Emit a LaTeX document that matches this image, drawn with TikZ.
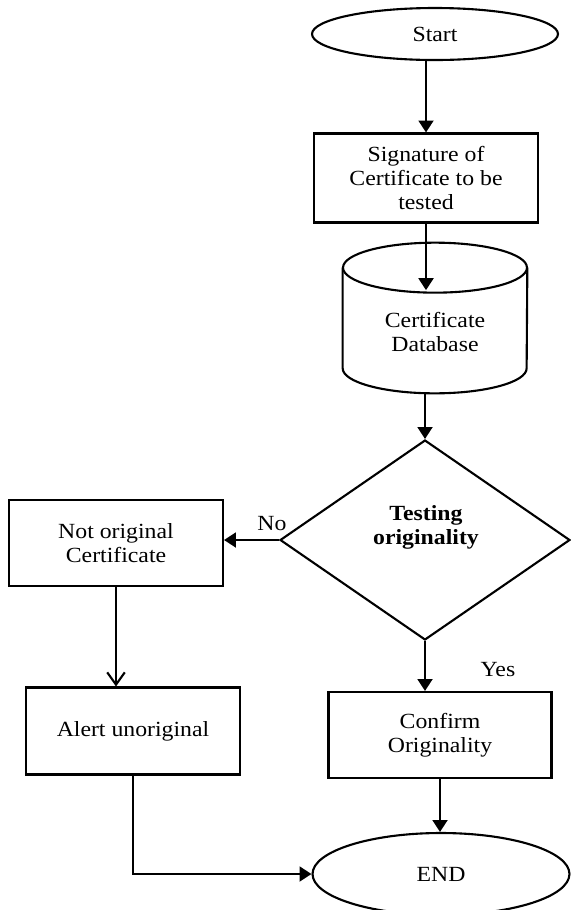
\documentclass[tikz,border=0pt]{standalone}
\usepackage{fontspec}
\setmainfont{Liberation Serif}[FakeStretch=1.1]
\usetikzlibrary{shapes.geometric,arrows.meta}

\newcommand{\flowfont}{\fontsize{12.3}{13.7}\selectfont}

\tikzset{
  box/.style={draw, line width=1.2pt, rectangle, align=center, inner sep=2pt},
  term/.style={draw, line width=1.2pt, ellipse, inner sep=0pt},
  store/.style={line width=1.2pt},
  decision/.style={draw, line width=1.2pt, diamond, inner sep=0pt},
  arrow/.style={line width=1.2pt, -{Triangle[length=6.8pt,width=8.5pt]}},
  openarrow/.style={line width=1.2pt, -{Straight Barb[length=7pt,width=10pt]}},
}

\begin{document}
\begin{tikzpicture}[x=0.02cm, y=-0.02cm, font=\flowfont]
  \useasboundingbox (0,0) rectangle (571,910);
  % shapes of the flow
  \node[term, minimum width=4.92cm, minimum height=1.04cm] (start) at (435,34) {Start};
  \node[box, minimum width=4.48cm, minimum height=1.78cm] (sig) at (426,178) {Signature of\\Certificate to be\\tested};
  \node[minimum width=3.68cm, minimum height=3cm, inner sep=0pt] (db) at (435,318) {};
  \node[align=center] (dbtext) at (435,332) {Certificate\\Database};
  \node[decision, minimum width=5.8cm, minimum height=4cm] (test) at (425,540) {};
  \node[align=center, font=\flowfont\bfseries] (testtext) at (426,527) {Testing\\originality};
  \node[box, minimum width=4.28cm, minimum height=1.72cm] (notorig) at (116,543) {Not original\\Certificate};
  \node[box, minimum width=4.28cm, minimum height=1.74cm] (alert) at (133,731) {Alert unoriginal};
  \node[box, minimum width=4.46cm, minimum height=1.72cm] (confirm) at (440,735) {Confirm\\Originality};
  \node[term, minimum width=5.14cm, minimum height=1.64cm] (finish) at (441,874) {END};
  \node (no) at (272,524) {No};
  \node (yes) at (498,670) {Yes};
  % the database drum
  \draw[store] ([yshift=-0.5cm]db.north) ellipse [x radius=1.84cm, y radius=0.5cm];
  \draw[store] ([yshift=-0.5cm]db.north west) -- ([yshift=0.5cm]db.south west)
    arc [start angle=180, end angle=360, x radius=1.84cm, y radius=0.5cm]
    -- ([yshift=-0.5cm]db.north east);
  % connectors
  \coordinate (lid) at ([yshift=-0.95cm]db.north);
  \draw[arrow] (sig.north |- start.south) -- (sig.north);
  \draw[arrow] (sig.south) -- (sig.south |- lid);
  \draw[arrow] (db.south -| test.north) -- (test.north);
  \draw[arrow] (test.west) -- (test.west -| notorig.east);
  \draw[openarrow] (notorig.south) -- (notorig.south |- alert.north);
  \draw[arrow] (test.south) -- (test.south |- confirm.north);
  \draw[arrow] (confirm.south) -- (confirm.south |- finish.north);
  \draw[arrow] (alert.south) |- (finish.west);
\end{tikzpicture}
\end{document}
